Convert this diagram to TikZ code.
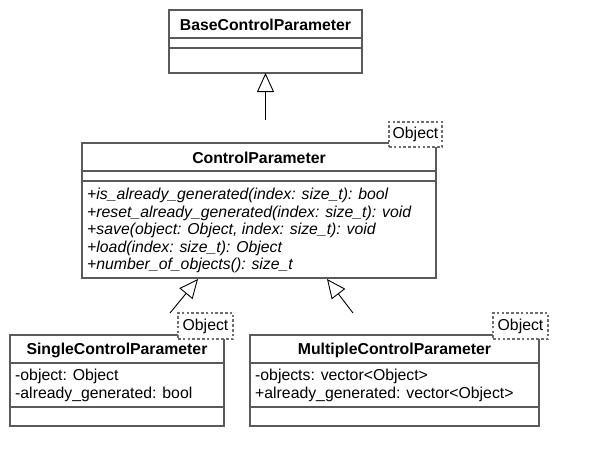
\documentclass[tikz,border=0pt]{standalone}
\usepackage{fontspec}
\setmainfont{Liberation Sans}
\usetikzlibrary{arrows.meta}
\definecolor{boxgray}{RGB}{90,90,90}
\definecolor{tplgray}{RGB}{110,110,110}
\tikzset{
  classbox/.style={draw=boxgray, line width=1.3pt, fill=white, anchor=north west, inner sep=0pt, outer sep=0pt},
  sepline/.style={draw=boxgray, line width=1.3pt},
  tpl/.style={draw=tplgray, dashed, dash pattern=on 2.6pt off 2.2pt, line width=1.1pt, fill=white, anchor=north west, inner sep=0pt, outer sep=0pt},
  ctitle/.style={font=\fontsize{15.8}{17.6}\selectfont\bfseries, anchor=base, inner sep=0pt},
  member/.style={font=\fontsize{15.8}{17.6}\selectfont, anchor=base west, inner sep=0pt},
  method/.style={font=\fontsize{15.8}{17.6}\selectfont\itshape, anchor=base west, inner sep=0pt},
  tpltext/.style={font=\fontsize{15.8}{17.6}\selectfont, inner sep=0pt},
  inherit/.style={draw=black, line width=0.9pt, -{Triangle[open, length=19pt, width=17pt, line width=0.9pt, fill=white]}},
}
\begin{document}
\begin{tikzpicture}[x=1pt,y=-1pt]
\useasboundingbox (0,0) rectangle (589,466);
\fill[white] (0,0) rectangle (589,466);

% BaseControlParameter
\node[classbox, minimum width=193pt, minimum height=63pt] (base) at (169,10) {};
\draw[sepline] (169,38) -- (362,38);
\draw[sepline] (169,48) -- (362,48);
\node[ctitle] (baset) at (265.5,30) {BaseControlParameter};

% ControlParameter
\node[classbox, minimum width=354pt, minimum height=135pt] (cp) at (82,143) {};
\draw[sepline] (82,171) -- (436,171);
\draw[sepline] (82,181) -- (436,181);
\node[ctitle] (cpt) at (259,163) {ControlParameter};
\node[method] (m1) at (87,199.5) {+is\_already\_generated(index: size\_t): bool};
\node[method] (m2) at (87,217.1) {+reset\_already\_generated(index: size\_t): void};
\node[method] (m3) at (87,234.7) {+save(object: Object, index: size\_t): void};
\node[method] (m4) at (87,252.3) {+load(index: size\_t): Object};
\node[method] (m5) at (87,269.9) {+number\_of\_objects(): size\_t};
\node[tpl, minimum width=53pt, minimum height=25pt] (cptpl) at (389,122) {};
\node[tpltext] (cptplt) at (cptpl.center) {Object};

% SingleControlParameter
\node[classbox, minimum width=214pt, minimum height=91pt] (scp) at (10,335) {};
\draw[sepline] (10,363) -- (224,363);
\draw[sepline] (10,407) -- (224,407);
\node[ctitle] (scpt) at (117,354.5) {SingleControlParameter};
\node[member] (sa1) at (15,380.8) {-object: Object};
\node[member] (sa2) at (15,398.4) {-already\_generated: bool};
\node[tpl, minimum width=55pt, minimum height=26pt] (stpl) at (178,313) {};
\node[tpltext] (stplt) at (stpl.center) {Object};

% MultipleControlParameter
\node[classbox, minimum width=289pt, minimum height=91pt] (mcp) at (250,335) {};
\draw[sepline] (250,363) -- (539,363);
\draw[sepline] (250,407) -- (539,407);
\node[ctitle] (mcpt) at (394.5,354.5) {MultipleControlParameter};
\node[member] (ma1) at (255,380.8) {-objects: vector<Object>};
\node[member] (ma2) at (255,398.4) {+already\_generated: vector<Object>};
\node[tpl, minimum width=55pt, minimum height=26pt] (mtpl) at (493,313) {};
\node[tpltext] (mtplt) at (mtpl.center) {Object};

% inheritance connectors
\coordinate (bfrom) at (265.5,120);
\coordinate (sfrom) at (170,313);
\coordinate (sto) at (198,279);
\coordinate (mfrom) at (353,313);
\coordinate (mto) at (327,279);
\draw[inherit] (bfrom) -- (base.south);
\draw[inherit] (sfrom) -- (sto);
\draw[inherit] (mfrom) -- (mto);
\end{tikzpicture}
\end{document}
